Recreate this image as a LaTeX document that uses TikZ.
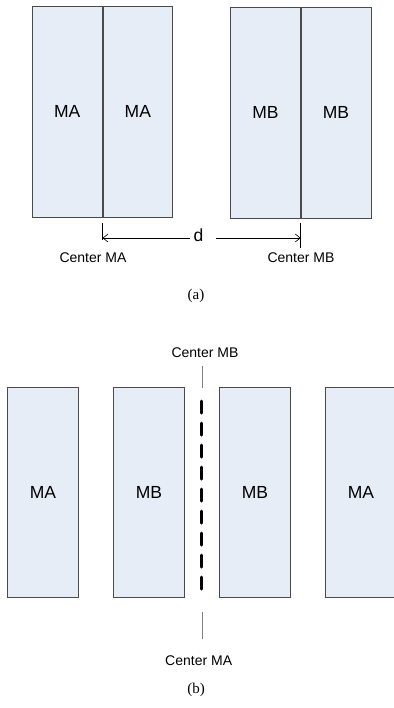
\documentclass[tikz,border=0pt]{standalone}
\usepackage{fontspec}
\setmainfont{Liberation Serif}
\setsansfont{Liberation Sans}
\usetikzlibrary{arrows.meta, positioning, calc}
\definecolor{boxfill}{HTML}{E7EDF7}
\definecolor{boxline}{HTML}{4A4A4A}

\begin{document}
\begin{tikzpicture}[x=1pt,y=-1pt,font=\sffamily,>={Straight Barb[length=5pt,width=8pt]},line width=0.8pt]
	
	\tikzset{half box/.style={draw=boxline,
			fill=boxfill, inner sep=0pt,
			minimum width=69.8pt, minimum height=211pt,
			font=\sffamily\fontsize{17.5}{20}\selectfont}}
	\tikzset{magnet box/.style={half box,
			minimum width=70.3pt, minimum height=209.6pt}}
	\tikzset{center lbl/.style={font=\sffamily\fontsize{14}{16}\selectfont}}
	\tikzset{fig lbl/.style={font=\rmfamily\fontsize{15}{17}\selectfont}}
	\tikzset{tick/.style={draw=gray, line width=0.7pt}}
	
	\useasboundingbox (0,0) rectangle (393,708);
	
	% (a)
	\node[half box] (MAl) at (67.2,111.5) {MA};
	\node[half box, right=0pt of MAl] (MAr) {MA};
	\node[half box] (MBl) at (265.4,112.5) {MB};
	\node[half box, right=0pt of MBl] (MBr) {MB};
	
	\node (d) at (198.5,235) {\fontsize{17.5}{20}\selectfont d};
	\draw[tick, black] ([yshift=-6pt]MAl.south east) -- ([yshift=-23pt]MAl.south east);
	\draw[tick, black] ([yshift=-5pt]MBl.south east) -- ([yshift=-30pt]MBl.south east);
	\draw[->, line width=0.6pt] ([yshift=-3pt]d.west) -- ([yshift=-3pt]d.west -| MAl.south east);
	\draw[->, line width=0.6pt] ([xshift=9pt,yshift=-3pt]d.east) -- ([yshift=-3pt]d.east -| MBl.south east);
	
	\node[center lbl] (cMA) at (93,258) {Center MA};
	\node[center lbl] (cMB) at (301,258) {Center MB};
	\node[fig lbl] (capA) at (196,296) {(a)};
	
	% (b)
	\node[magnet box] (A1) at (42.9,492.5) {MA};
	\node[magnet box, right=34.9pt of A1] (B1) {MB};
	\node[magnet box, right=34.9pt of B1] (B2) {MB};
	\node[magnet box, right=34.9pt of B2] (A2) {MA};
	
	\coordinate (top) at ($(B1.north east)!0.5!(B2.north west)$);
	\coordinate (bot) at ($(B1.south east)!0.5!(B2.south west)$);
	\draw[line width=3pt, line cap=round, dash pattern=on 12pt off 10pt]
	([yshift=-13.8pt]top) -- ([yshift=7.8pt]bot);
	
	\node[center lbl] (cMB2) at (205,352.7) {Center MB};
	\node[center lbl] (cMA2) at (198.7,661) {Center MA};
	\draw[tick] ([yshift=21pt]top) -- ([yshift=-1pt]top);
	\draw[tick] ([yshift=-14.4pt]bot) -- ([yshift=-41.7pt]bot);
	\node[fig lbl] (capB) at (196,690) {(b)};
\end{tikzpicture}
\end{document}
